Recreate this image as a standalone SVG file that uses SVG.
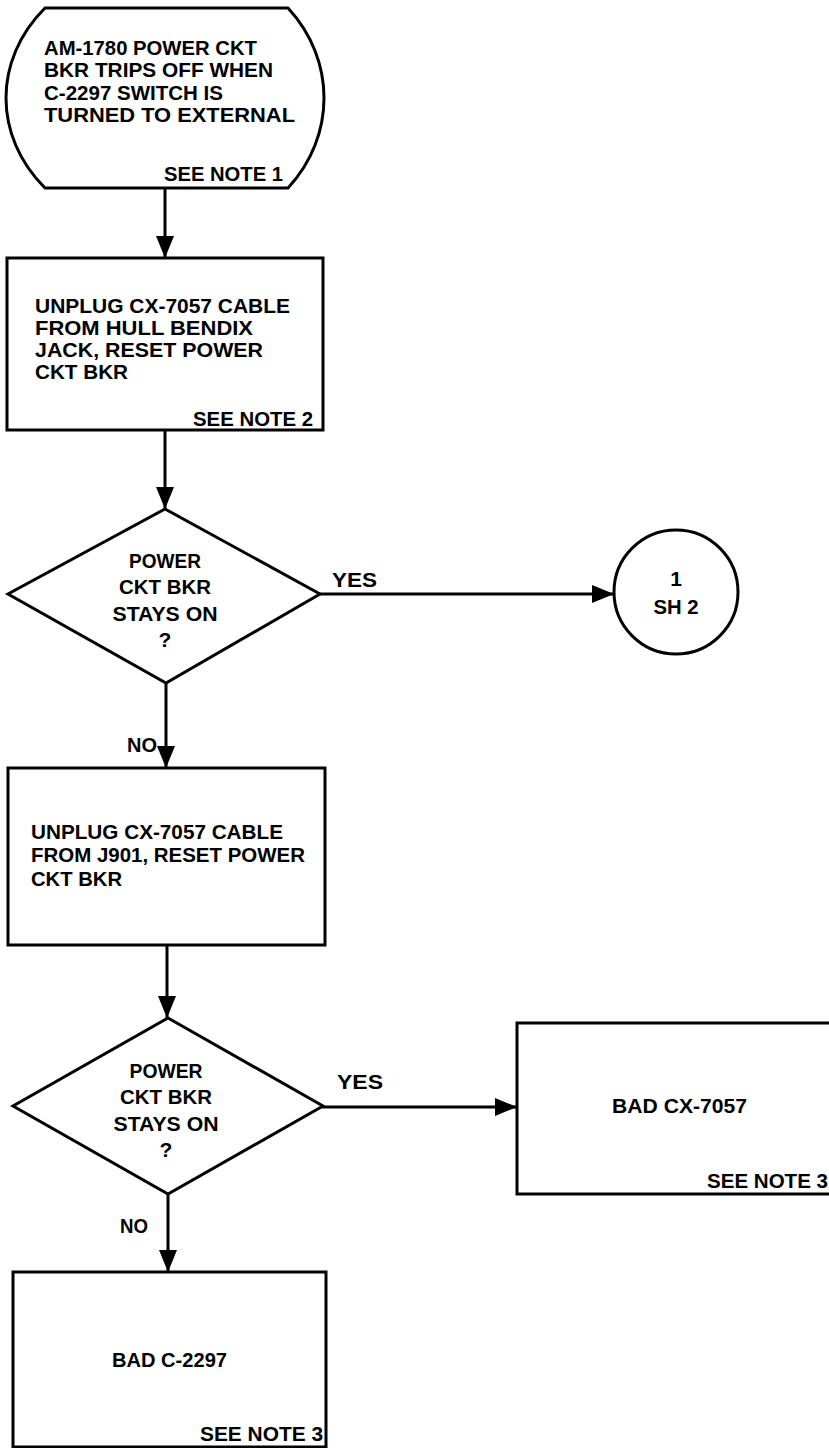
<svg xmlns="http://www.w3.org/2000/svg" width="829" height="1448" viewBox="0 0 829 1448">
<style>
.shape{fill:#fff;stroke:#000;stroke-width:3}
.conn{stroke:#000;stroke-width:3;fill:none}
text{font-family:"Liberation Sans",Arial,sans-serif;font-weight:bold;font-size:21px;fill:#000}
.c{text-anchor:middle}
</style>
<defs>
<marker id="arr" markerUnits="userSpaceOnUse" markerWidth="24" markerHeight="18" refX="22" refY="9" orient="auto">
<path d="M0,0 L22,9 L0,18 Z" fill="#000"/>
</marker>
</defs>
<rect width="829" height="1448" fill="#fff"/>
<g id="connectors">
<line class="conn" x1="165" y1="188" x2="165" y2="258" marker-end="url(#arr)"/>
<line class="conn" x1="165" y1="430" x2="165" y2="509" marker-end="url(#arr)"/>
<line class="conn" x1="320" y1="594" x2="614" y2="594" marker-end="url(#arr)"/>
<line class="conn" x1="166" y1="683" x2="166" y2="768" marker-end="url(#arr)"/>
<line class="conn" x1="167" y1="945" x2="167" y2="1018" marker-end="url(#arr)"/>
<line class="conn" x1="322" y1="1107" x2="517" y2="1107" marker-end="url(#arr)"/>
<line class="conn" x1="168" y1="1194" x2="168" y2="1272" marker-end="url(#arr)"/>
<text x="332" y="587" textLength="45" lengthAdjust="spacingAndGlyphs">YES</text>
<text x="337" y="1089" textLength="46" lengthAdjust="spacingAndGlyphs">YES</text>
<text x="127" y="752" textLength="30" lengthAdjust="spacingAndGlyphs">NO</text>
<text x="120" y="1233" textLength="28" lengthAdjust="spacingAndGlyphs">NO</text>
</g>
<g id="start">
<path class="shape" d="M45,8 L288,8 C336,60 336,136 288,188 L45,188 C-7,136 -7,60 45,8 Z"/>
<text x="44" y="55" textLength="213" lengthAdjust="spacingAndGlyphs">AM-1780 POWER CKT</text>
<text x="44" y="77" textLength="229" lengthAdjust="spacingAndGlyphs">BKR TRIPS OFF WHEN</text>
<text x="44" y="100" textLength="179" lengthAdjust="spacingAndGlyphs">C-2297 SWITCH IS</text>
<text x="44" y="122" textLength="251" lengthAdjust="spacingAndGlyphs">TURNED TO EXTERNAL</text>
<text x="164" y="181" textLength="119" lengthAdjust="spacingAndGlyphs">SEE NOTE 1</text>
</g>
<g id="unplug-hull">
<rect class="shape" x="7" y="258" width="316" height="172"/>
<text x="35" y="313" textLength="255" lengthAdjust="spacingAndGlyphs">UNPLUG CX-7057 CABLE</text>
<text x="35" y="335" textLength="218" lengthAdjust="spacingAndGlyphs">FROM HULL BENDIX</text>
<text x="35" y="357" textLength="228" lengthAdjust="spacingAndGlyphs">JACK, RESET POWER</text>
<text x="35" y="379" textLength="93" lengthAdjust="spacingAndGlyphs">CKT BKR</text>
<text x="193" y="426" textLength="120" lengthAdjust="spacingAndGlyphs">SEE NOTE 2</text>
</g>
<g id="decision1">
<polygon class="shape" points="165,509 320,594 166,683 8,594"/>
<text class="c" x="165" y="568" textLength="72" lengthAdjust="spacingAndGlyphs">POWER</text>
<text class="c" x="165" y="594" textLength="92" lengthAdjust="spacingAndGlyphs">CKT BKR</text>
<text class="c" x="165" y="621" textLength="105" lengthAdjust="spacingAndGlyphs">STAYS ON</text>
<text class="c" x="165" y="647">?</text>
</g>
<g id="sheet2">
<circle class="shape" cx="676" cy="592" r="62"/>
<text class="c" x="676" y="586">1</text>
<text class="c" x="676" y="614" textLength="45" lengthAdjust="spacingAndGlyphs">SH 2</text>
</g>
<g id="unplug-j901">
<rect class="shape" x="8" y="768" width="317" height="177"/>
<text x="31" y="839" textLength="252" lengthAdjust="spacingAndGlyphs">UNPLUG CX-7057 CABLE</text>
<text x="31" y="862" textLength="274" lengthAdjust="spacingAndGlyphs">FROM J901, RESET POWER</text>
<text x="31" y="886" textLength="91" lengthAdjust="spacingAndGlyphs">CKT BKR</text>
</g>
<g id="decision2">
<polygon class="shape" points="168,1018 323,1106 168,1194 13,1106"/>
<text class="c" x="166" y="1078" textLength="73" lengthAdjust="spacingAndGlyphs">POWER</text>
<text class="c" x="166" y="1104" textLength="92" lengthAdjust="spacingAndGlyphs">CKT BKR</text>
<text class="c" x="166" y="1131" textLength="105" lengthAdjust="spacingAndGlyphs">STAYS ON</text>
<text class="c" x="166" y="1157">?</text>
</g>
<g id="bad-cx7057">
<rect class="shape" x="517" y="1023" width="316" height="171"/>
<text x="612" y="1113" textLength="135" lengthAdjust="spacingAndGlyphs">BAD CX-7057</text>
<text x="707" y="1188" textLength="121" lengthAdjust="spacingAndGlyphs">SEE NOTE 3</text>
</g>
<g id="bad-c2297">
<rect class="shape" x="13" y="1272" width="313" height="175"/>
<text x="112" y="1367" textLength="115" lengthAdjust="spacingAndGlyphs">BAD C-2297</text>
<text x="200" y="1441" textLength="123" lengthAdjust="spacingAndGlyphs">SEE NOTE 3</text>
</g>
</svg>
